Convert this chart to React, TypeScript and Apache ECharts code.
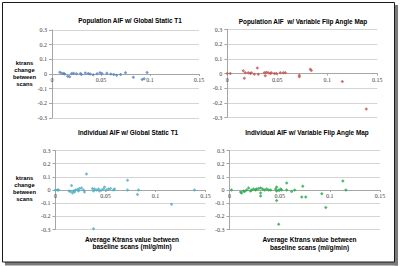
import React, { useEffect, useRef } from "react";
import * as echarts from "echarts";

// ---- Data ----
const panelTitles = [
  "Population AIF w/ Global Static T1",
  "Population AIF  w/ Variable Flip Angle Map",
  "Individual AIF w/ Global Static T1",
  "Individual AIF w/ Variable Flip Angle Map",
];
const yAxisName = "ktrans\nchange\nbetween\nscans";
const xAxisName = "Average Ktrans value between\nbaseline scans (ml/g/min)";

const popStaticX = [0.008, 0.010, 0.012, 0.013, 0.016, 0.018, 0.020, 0.022, 0.025, 0.029, 0.030, 0.034, 0.037, 0.039, 0.042, 0.046, 0.049, 0.051, 0.056, 0.060, 0.063, 0.066, 0.070, 0.075, 0.083, 0.092, 0.094, 0.097];
const popStaticY = [0.012, 0.005, 0.003, 0.0, -0.015, -0.018, 0.003, 0.005, 0.002, 0.004, -0.003, 0.006, 0.003, 0.0, -0.005, 0.002, 0.008, 0.003, 0.005, 0.0, -0.003, -0.008, -0.004, 0.008, -0.022, -0.038, -0.032, 0.010];

const popVfaX = [0.0, 0.003, 0.016, 0.017, 0.018, 0.021, 0.023, 0.024, 0.027, 0.030, 0.031, 0.037, 0.038, 0.039, 0.041, 0.043, 0.044, 0.047, 0.049, 0.053, 0.056, 0.058, 0.072, 0.072, 0.083, 0.084, 0.115, 0.139];
const popVfaY = [0.0, 0.0, 0.018, -0.033, 0.005, 0.005, 0.0, 0.005, -0.005, 0.038, -0.005, 0.005, -0.015, 0.008, 0.005, 0.0, 0.005, 0.0, 0.0, 0.005, 0.005, 0.005, -0.022, -0.012, 0.029, 0.02, -0.055, -0.242];

const indStaticX = [0.0, 0.002, 0.003, 0.0136, 0.015, 0.016, 0.017, 0.018, 0.019, 0.020, 0.022, 0.023, 0.024, 0.026, 0.028, 0.029, 0.031, 0.037, 0.038, 0.038, 0.039, 0.041, 0.043, 0.044, 0.046, 0.048, 0.049, 0.051, 0.053, 0.055, 0.058, 0.059, 0.072, 0.072, 0.082, 0.083, 0.116, 0.139];
const indStaticY = [0.0, 0.0, 0.0, -0.007, -0.011, 0.035, -0.023, -0.007, -0.016, 0.0, 0.004, -0.007, 0.011, 0.016, 0.0, -0.016, 0.122, 0.011, -0.295, -0.007, 0.007, 0.0, 0.007, -0.007, 0.0, 0.007, 0.023, 0.0, 0.007, 0.011, 0.0, 0.007, 0.0, 0.074, -0.035, 0.0, -0.108, 0.0];

const indVfaX = [0.002, 0.011, 0.012, 0.014, 0.015, 0.017, 0.019, 0.021, 0.022, 0.024, 0.026, 0.027, 0.029, 0.031, 0.031, 0.031, 0.033, 0.035, 0.037, 0.039, 0.041, 0.046, 0.047, 0.047, 0.047, 0.049, 0.049, 0.051, 0.052, 0.057, 0.057, 0.062, 0.065, 0.072, 0.073, 0.076, 0.092, 0.096, 0.113, 0.116];
const indVfaY = [0.0, -0.016, -0.023, -0.007, -0.011, 0.0, 0.016, -0.007, 0.0, 0.007, 0.0, 0.007, 0.011, 0.016, -0.023, -0.046, 0.007, 0.0, 0.007, 0.0, 0.0, 0.007, -0.007, 0.023, -0.08, 0.0, -0.26, 0.007, 0.0, 0.053, 0.0, -0.011, 0.0, -0.053, 0.028, -0.053, -0.028, -0.133, 0.069, 0.0];

const seriesColors = ["#4F81BD", "#C0504D", "#4BACC6", "#22A84A"];

const xMin = 0, xMax = 0.15, xStep = 0.05;
const yMin = -0.3, yMax = 0.3, yStep = 0.1;

const zip = (xs: number[], ys: number[]) => xs.map((x, i) => [x, ys[i]]);

export default function App() {
  const ref = useRef<HTMLDivElement>(null);
  useEffect(() => {
    if (!ref.current) return;
    const chart = echarts.init(ref.current, null, { renderer: "svg" });
    const grids = [
      { left: 52, top: 30, width: 147, height: 88 },
      { left: 227.3, top: 29.5, width: 150, height: 88 },
      { left: 55.5, top: 150.5, width: 150, height: 79 },
      { left: 229.5, top: 150.5, width: 150.5, height: 79 },
    ];
    const tickFont = { fontFamily: "Liberation Serif", fontSize: 6, color: "#404040" };
    const datasets = [
      zip(popStaticX, popStaticY),
      zip(popVfaX, popVfaY),
      zip(indStaticX, indStaticY),
      zip(indVfaX, indVfaY),
    ];
    const txt = (text: string, x: number, y: number, size: number, lh?: number) => ({
      type: "text",
      silent: true,
      style: {
        text,
        x,
        y,
        fill: "#000",
        fontFamily: "Liberation Sans",
        fontWeight: "bold",
        fontSize: size,
        lineHeight: lh ?? size + 1,
        align: "center",
        verticalAlign: "middle",
        textAlign: "center",
        textVerticalAlign: "middle",
      },
    });
    chart.setOption({
      animation: false,
      backgroundColor: "#fff",
      grid: grids.map((g) => ({ ...g, containLabel: false })),
      // x axis crosses the y axis at 0 (middle of the symmetric y range)
      xAxis: grids.map((g, i) => ({
        type: "value",
        gridIndex: i,
        position: "bottom",
        offset: -((0 - yMin) / (yMax - yMin)) * g.height,
        min: xMin,
        max: xMax,
        interval: xStep,
        axisLine: { show: true, onZero: false, lineStyle: { color: "#a6a6a6", width: 1 } },
        axisTick: { show: true, length: 2, lineStyle: { color: "#a6a6a6" } },
        axisLabel: { ...tickFont, margin: 3 },
        splitLine: { show: false },
      })),
      yAxis: grids.map((_, i) => ({
        type: "value",
        gridIndex: i,
        min: yMin,
        max: yMax,
        interval: yStep,
        axisLine: { show: true, onZero: false, lineStyle: { color: "#a6a6a6", width: 1 } },
        axisTick: { show: true, length: 3, lineStyle: { color: "#a6a6a6" } },
        axisLabel: { ...tickFont, margin: 5 },
        splitLine: { show: true, lineStyle: { color: "#d4d4d4", width: 1 } },
      })),
      series: datasets.map((d, i) => ({
        type: "scatter",
        xAxisIndex: i,
        yAxisIndex: i,
        data: d,
        symbol: "diamond",
        symbolSize: 3.5,
        itemStyle: { color: seriesColors[i] },
      })),
      graphic: [
        {
          type: "rect",
          silent: true,
          shape: { x: 5, y: 262, width: 393, height: 3.5 },
          style: { fill: "#7a7a7a" },
        },
        {
          type: "rect",
          silent: true,
          shape: { x: 394.5, y: 5, width: 3.5, height: 260.5 },
          style: { fill: "#7a7a7a" },
        },
        {
          type: "rect",
          silent: true,
          shape: { x: 2.5, y: 2.5, width: 392, height: 259.5 },
          style: { fill: "none", stroke: "#1a1a1a", lineWidth: 1 },
        },
        txt(panelTitles[0], 130, 20.5, 6.4),
        txt(panelTitles[1], 303, 21, 6.4),
        txt(panelTitles[2], 128, 132, 6.4),
        txt(panelTitles[3], 307, 132, 6.4),
        txt(yAxisName, 24.5, 73.5, 5.8, 7),
        txt(yAxisName, 24.5, 188, 5.8, 7),
        txt(xAxisName, 132, 243, 6.5, 7),
        txt(xAxisName, 309.5, 243.5, 6.5, 7.2),
      ],
    });
    return () => chart.dispose();
  }, []);
  return (
    <div
      ref={ref}
      style={{ position: "absolute", left: 0, top: 0, width: 400, height: 266, background: "#fff" }}
    />
  );
}
